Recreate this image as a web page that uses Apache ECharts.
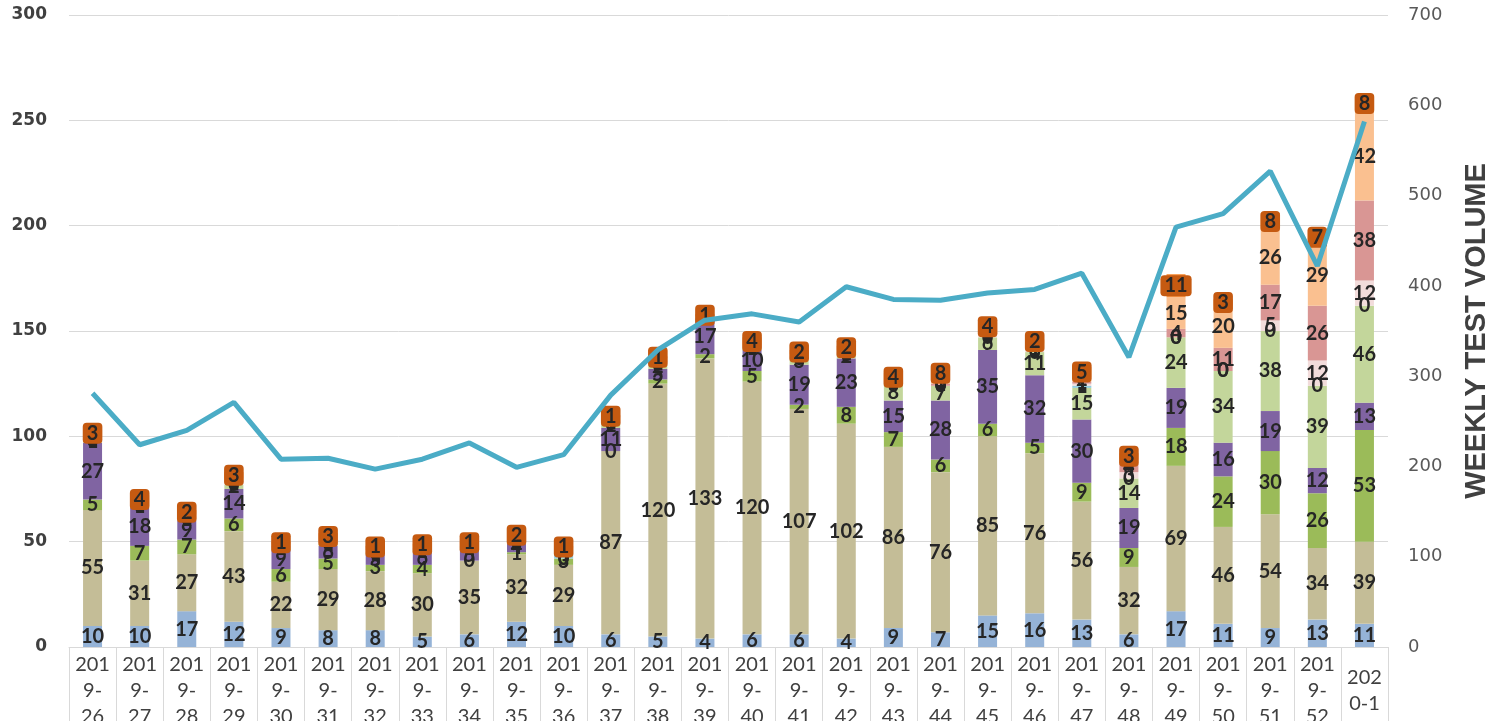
<!DOCTYPE html>
<html>
<head>
<meta charset="utf-8">
<script src="https://cdn.jsdelivr.net/npm/echarts@6/dist/echarts.min.js"></script>
<style>
  html, body { margin: 0; padding: 0; background: #fff; }
  #chart { width: 1508px; height: 721px; }
</style>
</head>
<body>
<div id="chart"></div>
<script>
// 周次
let weeks = ['2019-26', '2019-27', '2019-28', '2019-29', '2019-30', '2019-31', '2019-32',
    '2019-33', '2019-34', '2019-35', '2019-36', '2019-37', '2019-38', '2019-39', '2019-40',
    '2019-41', '2019-42', '2019-43', '2019-44', '2019-45', '2019-46', '2019-47', '2019-48',
    '2019-49', '2019-50', '2019-51', '2019-52', '2020-1'];

// 堆叠柱 (从下往上)
let blueVals = [10, 10, 17, 12, 9, 8, 8, 5, 6, 12, 10, 6, 5, 4, 6, 6, 4, 9, 7, 15, 16, 13, 6, 17, 11, 9, 13, 11];
let tanVals = [55, 31, 27, 43, 22, 29, 28, 30, 35, 32, 29, 87, 120, 133, 120, 107, 102, 86, 76, 85, 76, 56, 32, 69, 46, 54, 34, 39];
let greenVals = [5, 7, 7, 6, 6, 5, 3, 4, 0, 1, 3, 0, 2, 2, 5, 2, 8, 7, 6, 6, 5, 9, 9, 18, 24, 30, 26, 53];
let purpleVals = [27, 18, 9, 14, 9, 6, 5, 6, 5, 4, 0, 11, 5, 17, 10, 19, 23, 15, 28, 35, 32, 30, 19, 19, 16, 19, 12, 13];
let lightGreenVals = [1, 1, 1, 2, 1, 1, 1, 1, 1, 1, 0, 2, 2, 1, 1, 3, 2, 8, 7, 6, 11, 15, 14, 24, 34, 38, 39, 46];
let cyanVals = [0, 0, 0, 0, 0, 0, 0, 0, 0, 0, 4, 0, 0, 0, 0, 0, 0, 0, 0, 0, 0, 1, 0, 0, 0, 0, 0, 0];
let lightPinkVals = [0, 0, 0, 1, 0, 1, 1, 0, 0, 0, 0, 0, 1, 0, 0, 0, 0, 0, 0, 1, 1, 1, 3, 0, 0, 5, 12, 12];
let roseVals = [1, 1, 1, 1, 1, 1, 1, 1, 1, 1, 0, 1, 1, 0, 1, 1, 1, 1, 1, 1, 1, 1, 4, 4, 11, 17, 26, 38];
let lightOrangeVals = [1, 0, 1, 1, 1, 0, 0, 1, 1, 1, 1, 2, 1, 0, 0, 1, 1, 0, 1, 1, 2, 2, 2, 15, 20, 26, 29, 42];
let orangeVals = [3, 4, 2, 3, 1, 3, 1, 1, 1, 2, 1, 1, 1, 1, 4, 2, 2, 4, 8, 4, 2, 5, 3, 11, 3, 8, 7, 8];

// 每周检测量 (右轴)
let testVolume = [281, 224, 240, 271, 208, 209, 197, 208, 226, 199, 213, 279, 329, 362, 369, 360,
    399, 385, 384, 392, 396, 414, 321, 465, 480, 527, 422, 582];

let myChart = echarts.init(document.getElementById('chart'));

let stackList = [
    {name: 'S1', data: blueVals, color: '#95B3D7'},
    {name: 'S2', data: tanVals, color: '#C4BD97'},
    {name: 'S3', data: greenVals, color: '#9BBB59'},
    {name: 'S4', data: purpleVals, color: '#8064A2'},
    {name: 'S5', data: lightGreenVals, color: '#C3D69B'},
    {name: 'S6', data: cyanVals, color: '#93CDDD'},
    {name: 'S7', data: lightPinkVals, color: '#F2DCDB'},
    {name: 'S8', data: roseVals, color: '#D99694'},
    {name: 'S9', data: lightOrangeVals, color: '#FAC090'},
    {name: 'S10', data: orangeVals, color: '#F79646'}
];

let series = [];
stackList.forEach((item, i) => {
    let label = {
        show: true,
        position: 'inside',
        fontFamily: 'Lato',
        fontWeight: 'bold',
        fontSize: 20,
        color: '#262626'
    };
    if (i == stackList.length - 1) {
        label.backgroundColor = '#C55A11';
        label.borderRadius = 4;
        label.padding = [1, 4, 0, 4];
    }
    series.push({
        name: item.name,
        type: 'bar',
        stack: 'total',
        barWidth: 19,
        data: item.data,
        itemStyle: {color: item.color},
        label: label
    });
});

series.push({
    name: 'WEEKLY TEST VOLUME',
    type: 'line',
    yAxisIndex: 1,
    symbol: 'none',
    z: 10,
    data: testVolume,
    lineStyle: {color: '#4BACC6', width: 5},
    itemStyle: {color: '#4BACC6'}
});

let option = {
    animation: false,
    grid: {
        left: 69,
        right: 120,
        top: 15,
        bottom: 74,
        outerBoundsMode: 'none',
        containLabel: false
    },
    xAxis: {
        type: 'category',
        data: weeks,
        boundaryGap: true,
        axisLine: {lineStyle: {color: '#d9d9d9', width: 1}},
        axisTick: {show: true, length: 80, lineStyle: {color: '#d9d9d9'}},
        axisLabel: {
            interval: 0,
            margin: 5,
            fontFamily: 'Lato',
            fontSize: 20,
            lineHeight: 26,
            color: '#404040',
            formatter: function(v) {
                if (v.length > 6) {
                    return v.slice(0, 3) + '\n' + v.slice(3, 5) + '\n' + v.slice(5);
                }
                return '{s| }\n' + v.slice(0, 3) + '\n' + v.slice(3);
            },
            rich: {
                s: {fontSize: 1, lineHeight: 13}
            }
        }
    },
    yAxis: [
        {
            type: 'value',
            min: 0,
            max: 300,
            interval: 50,
            axisLine: {show: false},
            axisTick: {show: false},
            splitLine: {lineStyle: {color: '#d9d9d9', width: 1}},
            axisLabel: {
                margin: 22,
                fontFamily: 'DejaVu Sans',
                fontWeight: 'bold',
                fontSize: 17,
                color: '#404040'
            }
        },
        {
            type: 'value',
            min: 0,
            max: 700,
            interval: 100,
            name: 'WEEKLY TEST VOLUME',
            nameLocation: 'middle',
            nameRotate: 90,
            nameGap: 74,
            nameTextStyle: {
                fontFamily: 'Liberation Sans',
                fontWeight: 'bold',
                fontSize: 29,
                color: '#404040'
            },
            axisLine: {show: false},
            axisTick: {show: false},
            splitLine: {show: false},
            axisLabel: {
                margin: 20,
                fontFamily: 'DejaVu Sans',
                fontSize: 18,
                color: '#595959'
            }
        }
    ],
    series: series
};

myChart.setOption(option);
</script>
</body>
</html>
